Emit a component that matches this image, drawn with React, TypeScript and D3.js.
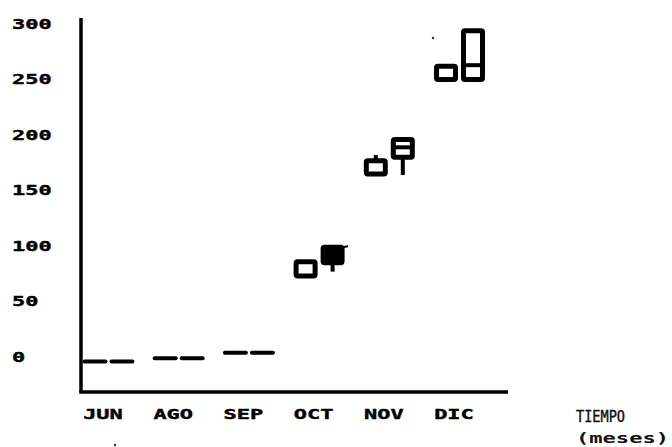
import React from "react";
import * as d3 from "d3";

const months = ["JUN", "AGO", "SEP", "OCT", "NOV", "DIC"];
const yTicks = [0, 50, 100, 150, 200, 250, 300];

// Left series (first box of each month)
const aLow = [-5, -2, 3, 72, 164, 249];
const aHigh = [-5, -2, 3, 85, 176, 261];
const aWhiskerHigh: (number | null)[] = [null, null, null, null, 181, null];

// Right series (second box of each month)
const bLow = [-5, -2, 3, 84, 179, 249];
const bHigh = [-5, -2, 3, 98, 195, 293];
const bMid: (number | null)[] = [null, null, null, null, 188, 262];
const bWhiskerLow: (number | null)[] = [null, null, null, 76, 163, null];
const bFilled = [false, false, false, true, false, false];

const W = 672;
const H = 447;

export default function App() {
  const x = d3.scalePoint<string>().domain(months).range([102, 453]);
  const y = d3.scaleLinear().domain([0, 300]).range([356, 23]);
  const axisX = 81;
  const axisY = 392;
  const bw = 19;
  const sw = 5;
  const font = "'DejaVu Sans Mono', monospace";
  const charW = 13.2;

  const renderBox = (
    cx: number,
    lo: number,
    hi: number,
    mid: number | null,
    wLo: number | null,
    wHi: number | null,
    filled: boolean,
    key: string
  ) => {
    if (lo === hi) {
      return (
        <line
          key={key}
          x1={cx - bw / 2 - 1}
          x2={cx + bw / 2 + 1}
          y1={y(lo)}
          y2={y(lo)}
          stroke="#000"
          strokeWidth={4}
          strokeLinecap="round"
        />
      );
    }
    return (
      <g key={key}>
        {wLo !== null && (
          <line x1={cx} x2={cx} y1={y(lo)} y2={y(wLo)} stroke="#000" strokeWidth={4} />
        )}
        {wHi !== null && (
          <line x1={cx} x2={cx} y1={y(hi)} y2={y(wHi)} stroke="#000" strokeWidth={4} />
        )}
        <rect
          x={cx - bw / 2}
          y={y(hi)}
          width={bw}
          height={y(lo) - y(hi)}
          fill={filled ? "#000" : "#fff"}
          stroke="#000"
          strokeWidth={sw}
          rx={1.5}
        />
        {mid !== null && (
          <line
            x1={cx - bw / 2}
            x2={cx + bw / 2}
            y1={y(mid)}
            y2={y(mid)}
            stroke="#000"
            strokeWidth={4}
          />
        )}
        {filled && (
          <line
            x1={cx + bw / 2}
            x2={cx + bw / 2 + 6}
            y1={y(hi)}
            y2={y(hi) - 1}
            stroke="#000"
            strokeWidth={2}
          />
        )}
      </g>
    );
  };

  const labelStyle = {
    fontFamily: font,
    fontWeight: "bold" as const,
    fontSize: 14,
    fill: "#000",
    stroke: "#000",
    strokeWidth: 0.4,
    lengthAdjust: "spacingAndGlyphs",
  };

  return (
    <svg
      width={W}
      height={H}
      style={{ position: "absolute", left: 0, top: 0, background: "#fff" }}
    >
      <rect x={0} y={0} width={W} height={H} fill="#fff" />
      {/* axes */}
      <line x1={axisX} x2={axisX} y1={18} y2={axisY} stroke="#000" strokeWidth={3.5} />
      <line x1={axisX - 1.75} x2={508} y1={axisY} y2={axisY} stroke="#000" strokeWidth={3.5} />

      {/* y tick labels */}
      {yTicks.map((t) => (
        <text
          key={t}
          x={12}
          y={y(t) + 5.5}
          textLength={String(t).length * charW}
          {...labelStyle}
        >
          {t}
        </text>
      ))}

      {/* x labels */}
      {months.map((m) => {
        const len = m.length * charW;
        return (
          <text
            key={m}
            x={x(m)! + 1 - len / 2}
            y={419}
            textLength={len}
            {...labelStyle}
          >
            {m}
          </text>
        );
      })}

      {/* boxes */}
      {months.map((m, i) => {
        const c = x(m)!;
        return (
          <g key={m}>
            {renderBox(c - 7, aLow[i], aHigh[i], null, null, aWhiskerHigh[i], false, "a" + m)}
            {renderBox(c + 20, bLow[i], bHigh[i], bMid[i], bWhiskerLow[i], null, bFilled[i], "b" + m)}
          </g>
        );
      })}

      {/* axis title */}
      <text
        x={576}
        y={422}
        fontFamily={font}
        fontSize={15}
        textLength={49}
        lengthAdjust="spacingAndGlyphs"
        fill="#111"
        stroke="#111"
        strokeWidth={0.4}
      >
        TIEMPO
      </text>
      <text
        x={576}
        y={443}
        fontFamily={font}
        fontWeight="bold"
        fontSize={14}
        textLength={93}
        lengthAdjust="spacingAndGlyphs"
        fill="#111"
      >
        (meses)
      </text>

      {/* specks from the scan */}
      <circle cx={433} cy={38} r={1.2} fill="#333" />
      <circle cx={115} cy={445} r={1.2} fill="#333" />
    </svg>
  );
}
